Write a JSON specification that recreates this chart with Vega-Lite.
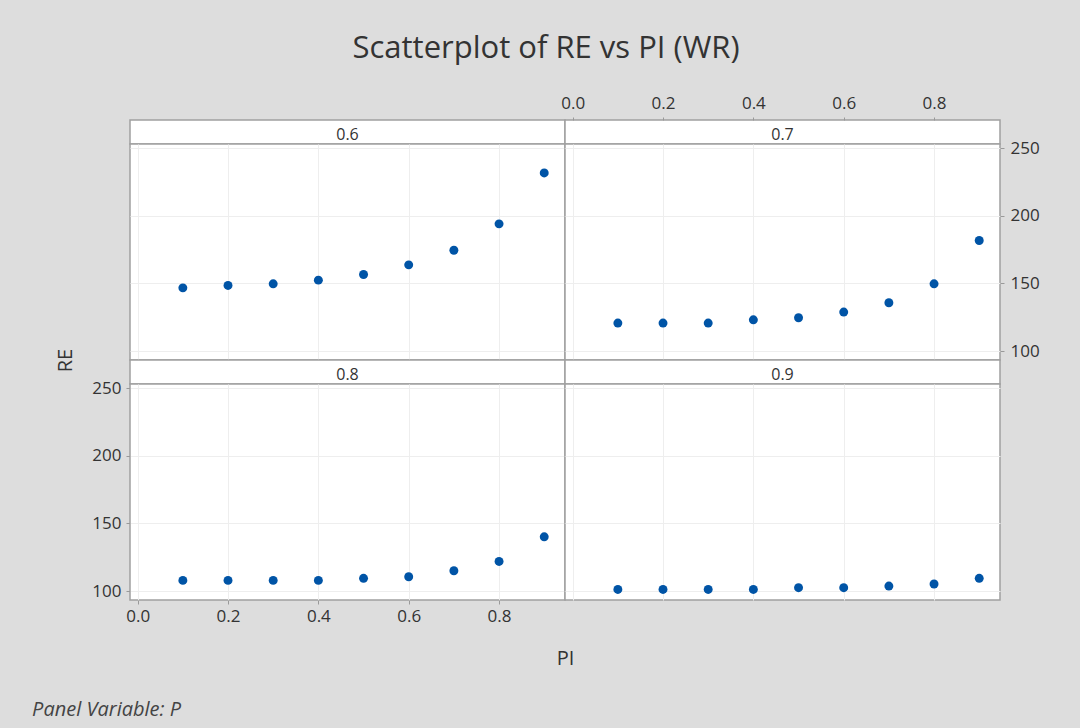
{
  "$schema": "https://vega.github.io/schema/vega-lite/v6.json",
  "background": "#dddddd",
  "padding": {"left": 32, "top": 33, "right": 41, "bottom": 11},
  "title": {"text": "Scatterplot of RE vs PI (WR)", "font": "Open Sans", "fontSize": 31, "fontWeight": "normal", "color": "#333333", "anchor": "middle", "offset": 28, "dx": 10},
  "config": {
    "view": {"fill": "white", "stroke": "#a0a0a0", "strokeWidth": 1.5},
    "axis": {"labelFont": "Open Sans", "labelFontSize": 17, "labelColor": "#333333", "tickColor": "#999999", "tickSize": 4, "gridColor": "#eeeeee", "gridWidth": 1, "domain": false, "titleFont": "Open Sans", "titleFontSize": 20, "titleFontWeight": "normal", "titleColor": "#333333"},
    "text": {"font": "Open Sans", "fontSize": 16, "color": "#333333"}
  },
  "datasets": {
    "panels": [{"P": "0.6"}, {"P": "0.7"}, {"P": "0.8"}, {"P": "0.9"}],
    "pts": [
      {"P": "0.6", "PI": 0.1, "RE": 146.7},
      {"P": "0.6", "PI": 0.2, "RE": 148.5},
      {"P": "0.6", "PI": 0.3, "RE": 149.7},
      {"P": "0.6", "PI": 0.4, "RE": 152.4},
      {"P": "0.6", "PI": 0.5, "RE": 156.6},
      {"P": "0.6", "PI": 0.6, "RE": 163.7},
      {"P": "0.6", "PI": 0.7, "RE": 174.5},
      {"P": "0.6", "PI": 0.8, "RE": 194.0},
      {"P": "0.6", "PI": 0.9, "RE": 231.6},
      {"P": "0.7", "PI": 0.1, "RE": 120.7},
      {"P": "0.7", "PI": 0.2, "RE": 120.7},
      {"P": "0.7", "PI": 0.3, "RE": 120.7},
      {"P": "0.7", "PI": 0.4, "RE": 123.1},
      {"P": "0.7", "PI": 0.5, "RE": 124.6},
      {"P": "0.7", "PI": 0.6, "RE": 128.8},
      {"P": "0.7", "PI": 0.7, "RE": 135.7},
      {"P": "0.7", "PI": 0.8, "RE": 149.7},
      {"P": "0.7", "PI": 0.9, "RE": 181.7},
      {"P": "0.8", "PI": 0.1, "RE": 107.9},
      {"P": "0.8", "PI": 0.2, "RE": 107.9},
      {"P": "0.8", "PI": 0.3, "RE": 107.9},
      {"P": "0.8", "PI": 0.4, "RE": 107.9},
      {"P": "0.8", "PI": 0.5, "RE": 109.4},
      {"P": "0.8", "PI": 0.6, "RE": 110.6},
      {"P": "0.8", "PI": 0.7, "RE": 115.0},
      {"P": "0.8", "PI": 0.8, "RE": 121.9},
      {"P": "0.8", "PI": 0.9, "RE": 140.1},
      {"P": "0.9", "PI": 0.1, "RE": 101.2},
      {"P": "0.9", "PI": 0.2, "RE": 101.2},
      {"P": "0.9", "PI": 0.3, "RE": 101.2},
      {"P": "0.9", "PI": 0.4, "RE": 101.2},
      {"P": "0.9", "PI": 0.5, "RE": 102.5},
      {"P": "0.9", "PI": 0.6, "RE": 102.5},
      {"P": "0.9", "PI": 0.7, "RE": 103.7},
      {"P": "0.9", "PI": 0.8, "RE": 105.2},
      {"P": "0.9", "PI": 0.9, "RE": 109.4}
    ]
  },
  "spacing": 0,
  "vconcat": [
    {
      "title": {"text": "Panel Variable: P", "orient": "bottom", "anchor": "start", "font": "Open Sans", "fontSize": 20, "fontStyle": "italic", "fontWeight": "normal", "color": "#444444", "offset": 31, "dx": -23},
      "columns": 2,
      "spacing": 0,
      "bounds": "flush",
      "concat": [
        {
          "width": 435, "height": 24,
          "layer": [
            {
              "data": {"name": "panels"},
              "transform": [{"filter": "datum.P == '0.6'"}],
              "mark": {"type": "text", "baseline": "middle", "dy": 3},
              "encoding": {"text": {"field": "P", "type": "nominal"}}
            },
            {
              "data": {"name": "pts"},
              "transform": [{"filter": "datum.P == '0.6'"}],
              "mark": {"type": "point", "opacity": 0},
              "encoding": {"x": {"field": "PI", "type": "quantitative", "scale": {"domain": [-0.017, 0.946], "nice": false, "zero": false}, "axis": null}}
            }
          ]
        },
        {
          "width": 435, "height": 24,
          "layer": [
            {
              "data": {"name": "panels"},
              "transform": [{"filter": "datum.P == '0.7'"}],
              "mark": {"type": "text", "baseline": "middle", "dy": 3},
              "encoding": {"text": {"field": "P", "type": "nominal"}}
            },
            {
              "data": {"name": "pts"},
              "transform": [{"filter": "datum.P == '0.7'"}],
              "mark": {"type": "point", "opacity": 0},
              "encoding": {
                "x": {"field": "PI", "type": "quantitative", "scale": {"domain": [-0.017, 0.946], "nice": false, "zero": false}, "axis": {"orient": "top", "grid": false, "title": null, "values": [0, 0.2, 0.4, 0.6, 0.8], "format": ".1f", "tickSize": 3, "labelPadding": 5}}
              }
            }
          ]
        },
        {
          "width": 435, "height": 216,
          "data": {"name": "pts"},
          "transform": [{"filter": "datum.P == '0.6'"}],
          "mark": {"type": "circle", "size": 80, "color": "#0054a6", "opacity": 1},
          "encoding": {
            "x": {"field": "PI", "type": "quantitative", "scale": {"domain": [-0.017, 0.946], "nice": false, "zero": false}, "axis": {"grid": true, "labels": false, "ticks": false, "title": null, "values": [0, 0.2, 0.4, 0.6, 0.8]}},
            "y": {"field": "RE", "type": "quantitative", "scale": {"domain": [93.4, 253], "nice": false, "zero": false}, "axis": {"grid": true, "labels": false, "ticks": false, "title": null, "values": [100, 150, 200, 250]}}
          }
        },
        {
          "width": 435, "height": 216,
          "data": {"name": "pts"},
          "transform": [{"filter": "datum.P == '0.7'"}],
          "mark": {"type": "circle", "size": 80, "color": "#0054a6", "opacity": 1},
          "encoding": {
            "x": {"field": "PI", "type": "quantitative", "scale": {"domain": [-0.017, 0.946], "nice": false, "zero": false}, "axis": {"grid": true, "labels": false, "ticks": false, "title": null, "values": [0, 0.2, 0.4, 0.6, 0.8]}},
            "y": {"field": "RE", "type": "quantitative", "scale": {"domain": [93.4, 253], "nice": false, "zero": false}, "axis": {"orient": "right", "grid": true, "title": null, "values": [100, 150, 200, 250], "labelPadding": 6}}
          }
        },
        {
          "width": 435, "height": 24,
          "layer": [
            {
              "data": {"name": "panels"},
              "transform": [{"filter": "datum.P == '0.8'"}],
              "mark": {"type": "text", "baseline": "middle", "dy": 3},
              "encoding": {"text": {"field": "P", "type": "nominal"}}
            },
            {
              "data": {"name": "pts"},
              "transform": [{"filter": "datum.P == '0.8'"}],
              "mark": {"type": "point", "opacity": 0},
              "encoding": {"x": {"field": "PI", "type": "quantitative", "scale": {"domain": [-0.017, 0.946], "nice": false, "zero": false}, "axis": null}}
            }
          ]
        },
        {
          "width": 435, "height": 24,
          "layer": [
            {
              "data": {"name": "panels"},
              "transform": [{"filter": "datum.P == '0.9'"}],
              "mark": {"type": "text", "baseline": "middle", "dy": 3},
              "encoding": {"text": {"field": "P", "type": "nominal"}}
            },
            {
              "data": {"name": "pts"},
              "transform": [{"filter": "datum.P == '0.9'"}],
              "mark": {"type": "point", "opacity": 0},
              "encoding": {"x": {"field": "PI", "type": "quantitative", "scale": {"domain": [-0.017, 0.946], "nice": false, "zero": false}, "axis": null}}
            }
          ]
        },
        {
          "width": 435, "height": 216,
          "data": {"name": "pts"},
          "transform": [{"filter": "datum.P == '0.8'"}],
          "mark": {"type": "circle", "size": 80, "color": "#0054a6", "opacity": 1},
          "encoding": {
            "x": {"field": "PI", "type": "quantitative", "scale": {"domain": [-0.017, 0.946], "nice": false, "zero": false}, "axis": {"grid": true, "title": "PI", "titleX": 435, "titlePadding": 24, "values": [0, 0.2, 0.4, 0.6, 0.8], "format": ".1f", "labelPadding": 4}},
            "y": {"field": "RE", "type": "quantitative", "scale": {"domain": [93.4, 253], "nice": false, "zero": false}, "axis": {"grid": true, "title": "RE", "titleY": -24, "titlePadding": 16, "values": [100, 150, 200, 250], "labelPadding": 5}}
          }
        },
        {
          "width": 435, "height": 216,
          "data": {"name": "pts"},
          "transform": [{"filter": "datum.P == '0.9'"}],
          "mark": {"type": "circle", "size": 80, "color": "#0054a6", "opacity": 1},
          "encoding": {
            "x": {"field": "PI", "type": "quantitative", "scale": {"domain": [-0.017, 0.946], "nice": false, "zero": false}, "axis": {"grid": true, "labels": false, "ticks": false, "title": null, "values": [0, 0.2, 0.4, 0.6, 0.8]}},
            "y": {"field": "RE", "type": "quantitative", "scale": {"domain": [93.4, 253], "nice": false, "zero": false}, "axis": {"grid": true, "labels": false, "ticks": false, "title": null, "values": [100, 150, 200, 250]}}
          }
        }
      ]
    }
  ]
}
